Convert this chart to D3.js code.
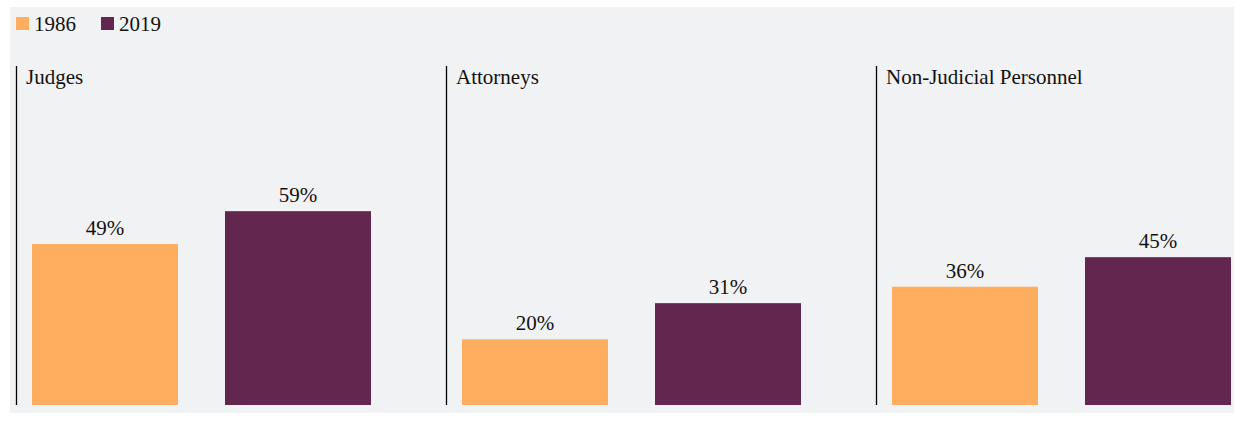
<!DOCTYPE html>
<html>
<head>
<meta charset="utf-8">
<script src="https://cdn.jsdelivr.net/npm/d3@7"></script>
<style>
  html, body { margin: 0; padding: 0; background: #ffffff; }
  svg { display: block; }
  text { font-family: "Liberation Serif", "Times New Roman", serif; fill: #111111; }
</style>
</head>
<body>
<svg id="chart" width="1235" height="429"></svg>
<script>
// Share of women by role, 1986 vs 2019
const groups = ["Judges", "Attorneys", "Non-Judicial Personnel"];
const years = ["1986", "2019"];
const values1986 = [49, 20, 36];
const values2019 = [59, 31, 45];
const colors = ["#ffae5f", "#62264f"];

const svg = d3.select("#chart");

// panel background
svg.append("rect")
  .attr("x", 10).attr("y", 7)
  .attr("width", 1224).attr("height", 406)
  .attr("fill", "#f1f2f4");

// legend
const legendX = [16, 101];
years.forEach((yr, i) => {
  const g = svg.append("g").attr("transform", `translate(${legendX[i]},0)`);
  g.append("rect").attr("x", 0).attr("y", 17).attr("width", 13).attr("height", 13).attr("fill", colors[i]);
  g.append("text").attr("x", 18).attr("y", 31).attr("font-size", 21).text(yr);
});

// facets
const baseY = 405;
const y = d3.scaleLinear().domain([0, 100]).range([baseY, baseY - 328.5]);
const facet = d3.scaleBand().domain(groups).range([16, 1306]);
const x = d3.scaleBand().domain(years).range([16, 355]).paddingInner(0.2435).paddingOuter(0);

groups.forEach((grp, gi) => {
  const g = svg.append("g").attr("transform", `translate(${facet(grp)},0)`);
  g.append("line")
    .attr("x1", 0.5).attr("x2", 0.5)
    .attr("y1", 66).attr("y2", baseY)
    .attr("stroke", "#000").attr("stroke-width", 1.3);
  g.append("text").attr("x", 10).attr("y", 84).attr("font-size", 21).text(grp);

  const vals = [values1986[gi], values2019[gi]];
  years.forEach((yr, i) => {
    const v = vals[i];
    g.append("rect")
      .attr("x", x(yr)).attr("y", y(v))
      .attr("width", x.bandwidth()).attr("height", baseY - y(v))
      .attr("fill", colors[i]);
    g.append("text")
      .attr("x", x(yr) + x.bandwidth() / 2)
      .attr("y", y(v) - 9)
      .attr("text-anchor", "middle")
      .attr("font-size", 21)
      .text(v + "%");
  });
});
</script>
</body>
</html>
